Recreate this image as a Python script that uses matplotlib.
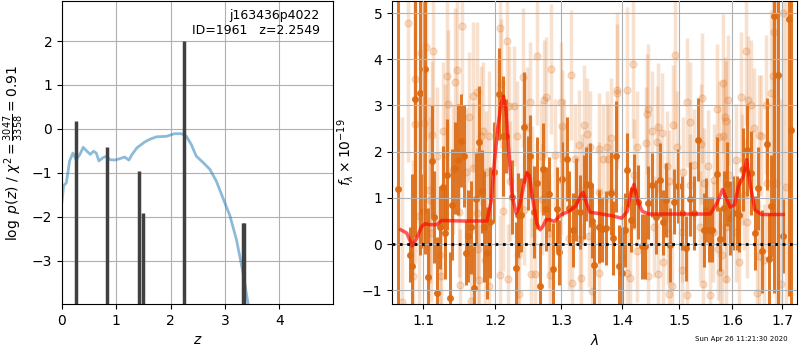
import matplotlib
matplotlib.use('Agg')
import matplotlib.pyplot as plt
from matplotlib.ticker import NullLocator, FixedLocator, FixedFormatter

# ---- left panel: redshift PDF ----
prior_z = [0.0, 0.03, 0.08, 0.14, 0.20, 0.26, 0.33, 0.39, 0.46, 0.52,
           0.58, 0.63, 0.68, 0.75, 0.82, 0.88, 0.97, 1.06, 1.15, 1.23,
           1.29, 1.38, 1.52, 1.61, 1.74, 1.92, 2.07, 2.20, 2.29, 2.38,
           2.47, 2.60, 2.72, 2.84, 2.96, 3.09, 3.21, 3.33, 3.42, 3.50]
prior_logp = [-1.65, -1.29, -1.23, -0.73, -0.55, -0.70, -0.58, -0.42, -0.51, -0.58,
              -0.51, -0.55, -0.73, -0.66, -0.62, -0.70, -0.71, -0.68, -0.64, -0.71,
              -0.58, -0.43, -0.30, -0.24, -0.18, -0.17, -0.11, -0.11, -0.17, -0.36,
              -0.62, -0.77, -0.92, -1.19, -1.57, -1.98, -2.52, -3.27, -3.95, -4.6]
peak_z = [0.26, 0.835, 1.413, 1.487, 2.249, 3.33, 3.355]
peak_logp = [0.18, -0.42, -0.95, -1.92, 2.01, -2.15, -2.15]

# ---- right panel: spectrum ----
dark_wave = [1.0673, 1.0825, 1.0855, 1.0890, 1.0956, 1.1000, 1.1023, 1.1066, 1.1112, 1.1142,
             1.1178, 1.1223, 1.1259, 1.1290, 1.1326, 1.1366, 1.1393, 1.1437, 1.1469, 1.1514,
             1.1555, 1.1590, 1.1617, 1.1649, 1.1694, 1.1725, 1.1762, 1.1807, 1.1844, 1.1881,
             1.1922, 1.1985,
             1.2053, 1.2111, 1.2159, 1.2247, 1.2309, 1.2332, 1.2378, 1.2432, 1.2482, 1.2513,
             1.2583, 1.2633, 1.2667, 1.2710, 1.2760, 1.2813, 1.2879, 1.2930, 1.2968, 1.3011,
             1.3094, 1.3125, 1.3189, 1.3242, 1.3294, 1.3366, 1.3403, 1.3456, 1.3489, 1.3527,
             1.3603, 1.3658, 1.3725, 1.3813, 1.3851, 1.3897, 1.3953, 1.4003, 1.4048, 1.4087,
             1.4148, 1.4207, 1.4275, 1.4334, 1.4391, 1.4448, 1.4517, 1.4579, 1.4656, 1.4714,
             1.4755, 1.4832, 1.4910, 1.4982, 1.5054, 1.5134, 1.5195, 1.5274, 1.5346,
             1.5455, 1.5497, 1.5554, 1.5614, 1.5703, 1.5757, 1.5831, 1.5891, 1.5947, 1.6018,
             1.6081, 1.6133, 1.6201, 1.6279, 1.6360, 1.6455, 1.6506, 1.6591, 1.6679, 1.6727,
             1.6775, 1.6837, 1.6903, 1.7019, 1.7138, 1.7187]
dark_flux = [1.19, -0.23, -0.48, 3.15, 3.27, 0.72, 3.79, -0.72, 1.80, 0.58,
             -1.05, 0.36, 1.23, 0.24, 1.50, -1.17, 0.85, 1.65, 1.83, 2.24,
             1.90, -0.19, 0.18, 0.36, -0.95, 0.97, 2.22, 1.14, 0.38, -0.19,
             0.47, 1.55,
             3.25, 2.34, 2.33, 1.01, -0.52, 0.63, 0.63, 2.53, 1.54, 1.90,
             0.69, 1.32, -0.90, 1.62, 0.76, 1.09, -0.54, 0.76, -0.18, 1.41,
             1.84, 0.78, 0.31, 0.96, 0.69, 1.02, 1.30, 1.28, 0.49, -0.45,
             0.38, 0.32, 0.35, 1.10, 0.14, 1.90, -0.48, -0.63, 0.31, 1.61,
             0.53, 1.14, 0.92, -0.05, -0.05, 0.90, 1.28, 0.58, 1.39, 0.47,
             0.95, -0.01, 0.92, 1.25, 0.67, -0.09, 0.97, 0.67, 2.26,
             0.31, 0.74, 0.31, 0.31, 1.52, 0.11, 0.78, 1.30, 0.56, 0.67,
             0.67, 0.63, 1.62, 2.04, 1.54, 0.24, 1.21, -0.16, 2.16, -0.32,
             0.83, 4.94, 3.67, 0.18, 4.87, 2.47]
dark_err = [6.0, 0.6, 2.0, 3.0, 3.5, 0.8, 4.0, 1.5, 1.2, 1.0,
            1.2, 0.9, 0.9, 1.0, 1.2, 1.0, 1.2, 1.0, 1.2, 1.0,
            1.1, 0.7, 1.0, 1.0, 0.9, 1.0, 1.2, 0.9, 1.2, 1.0,
            1.2, 1.1,
            1.0, 1.3, 0.8, 0.8, 1.0, 0.9, 0.8, 1.2, 0.8, 0.9,
            1.0, 1.0, 0.9, 1.0, 0.9, 0.8, 1.0, 0.9, 0.7, 0.8,
            0.9, 0.8, 0.8, 0.9, 0.8, 0.9, 0.8, 0.9, 0.8, 0.9,
            0.8, 0.7, 0.8, 0.9, 0.8, 1.2, 0.9, 1.0, 0.8, 0.8,
            0.7, 0.8, 0.8, 0.7, 0.7, 0.8, 0.7, 0.8, 0.8, 0.7,
            0.8, 0.8, 0.7, 0.8, 0.8, 0.7, 0.8, 0.8, 0.9,
            0.8, 0.7, 0.7, 0.7, 0.8, 0.7, 0.8, 0.9, 0.8, 0.8,
            0.8, 0.8, 0.9, 1.0, 0.9, 0.8, 0.9, 0.9, 1.0, 1.0,
            1.1, 6.0, 6.0, 0.8, 6.0, 6.0]

light_wave = [1.0803, 1.1036, 1.0966, 1.1133, 1.0890, 1.1314, 1.1430, 1.1457, 1.1530, 1.1745,
              1.1686, 1.1336, 1.1621, 1.0885, 1.1013, 1.1112, 1.1268, 1.1828, 1.1917, 1.1792,
              1.1178, 1.1291, 1.1076, 1.1403, 1.1586, 1.1676, 1.1870, 1.1089, 1.0947, 1.1480,
              1.1740, 1.1108, 1.1223, 1.1232, 1.1494, 1.1759, 1.1861, 1.0867, 1.1912, 1.1654,
              1.0725, 1.1768,
              1.2071, 1.2169, 1.2085, 1.2208, 1.2283, 1.2013, 1.2317, 1.2417, 1.2516, 1.2632,
              1.2836, 1.2734, 1.2770, 1.3160, 1.2992, 1.3018, 1.3362, 1.3415, 1.3292, 1.3459,
              1.2466, 1.2683, 1.2904, 1.3045, 1.3219, 1.2556, 1.2223, 1.2708, 1.2998, 1.3335,
              1.2111, 1.2432, 1.2811, 1.3124, 1.3308, 1.3452, 1.2332, 1.2183, 1.2065, 1.2531,
              1.2597, 1.2821, 1.3176, 1.2357, 1.3496, 1.3324,
              1.3908, 1.3915, 1.4087, 1.4190, 1.4925, 1.4440, 1.4422, 1.4616, 1.4521, 1.4687,
              1.4884, 1.5138, 1.5199, 1.3614, 1.3742, 1.3768, 1.3685, 1.3813, 1.4248, 1.4405,
              1.4598, 1.4956, 1.5279, 1.4776, 1.5076, 1.3603, 1.3825, 1.4207, 1.4817, 1.5205,
              1.4556, 1.4805, 1.5047, 1.3992, 1.4252, 1.4715, 1.4077, 1.4445, 1.4627, 1.5058,
              1.4133, 1.4876, 1.4810, 1.5142, 1.3618,
              1.5418, 1.5812, 1.5908, 1.5704, 1.5856, 1.5875, 1.6262, 1.6178, 1.6309, 1.6360,
              1.6659, 1.6760, 1.6815, 1.6820, 1.7019, 1.5749, 1.5818, 1.6527, 1.6559, 1.6427,
              1.5405, 1.6067, 1.5543, 1.5655, 1.6183, 1.6693, 1.6861, 1.5468, 1.5940, 1.6230,
              1.6295, 1.5880, 1.5623, 1.5375, 1.6072, 1.5717, 1.5808, 1.6133, 1.6532, 1.6627,
              1.5436, 1.5870, 1.5768, 1.5580, 1.6493, 1.6963, 1.7066]
light_flux = [4.78, 4.26, 4.13, 4.17, 3.58, 3.63, 3.51, 3.76, 4.73, 3.30,
              3.20, 3.03, 2.75, 2.60, 2.63, 2.37, 2.45, 2.45, 2.35, 2.35,
              1.91, 1.96, 1.18, 1.61, 1.55, 1.65, 1.57, 0.96, 0.61, 0.69,
              0.67, 0.24, -0.23, -0.69, -0.88, -0.11, -0.34, -0.69, -0.90, -1.24,
              -1.26, -0.77,
              4.68, 4.39, 3.47, 2.99, 2.98, 2.49, 2.33, 3.61, 3.07, 4.08,
              3.79, 3.11, 3.18, 3.66, 3.07, 2.56, 2.57, 2.39, 2.14, 2.11,
              2.53, 1.90, 1.93, 1.93, 1.84, 1.36, 1.36, 0.97, 1.39, 1.18,
              0.71, 0.74, 0.24, 0.13, 0.11, 0.18, -0.23, -0.76, -0.66, -0.64,
              -0.64, -0.66, -0.84, -1.08, -1.02, -0.74,
              3.33, 3.27, 3.34, 3.90, 4.10, 2.92, 2.82, 2.53, 2.45, 2.40,
              2.58, 3.07, 2.64, 2.06, 2.11, 1.84, 1.84, 2.29, 2.11, 2.19,
              2.22, 2.11, 1.72, 1.68, 1.55, 1.12, 1.12, 1.50, 1.36, 1.28,
              0.38, 0.24, 0.27, -0.27, -0.16, -0.38, -0.63, -0.70, -0.64, -0.57,
              -0.74, -0.90, -1.08, -1.10, -0.63,
              3.16, 3.48, 3.12, 2.92, 2.75, 2.66, 4.18, 3.18, 3.11, 3.02,
              3.02, 3.27, 3.63, 4.58, 5.00, 2.32, 2.35, 2.37, 2.35, 2.51,
              2.17, 1.83, 1.70, 1.39, 1.61, 1.33, 1.33, 1.32, 1.50, 1.07,
              0.47, 0.38, 0.27, 0.38, 0.27, -0.11, -0.23, -0.38, -0.25, -0.34,
              -0.86, -0.76, -0.61, -1.10, -1.06, -0.86, 1.23]
light_err = [3.0, 2.0, 2.5, 1.8, 3.0, 1.8, 1.6, 1.8, 1.5, 1.5,
             1.6, 1.6, 1.4, 3.0, 2.5, 1.6, 1.5, 1.5, 1.4, 1.5,
             1.5, 1.5, 2.0, 1.4, 1.4, 1.4, 1.3, 1.8, 2.5, 1.4,
             1.4, 1.5, 1.3, 1.3, 1.2, 1.3, 1.3, 2.5, 1.2, 1.2,
             4.0, 1.2,
             1.5, 1.6, 1.4, 1.3, 1.3, 1.5, 1.2, 1.5, 1.3, 1.5,
             1.4, 1.3, 1.3, 1.4, 1.3, 1.2, 1.3, 1.2, 1.2, 1.2,
             1.3, 1.2, 1.2, 1.2, 1.2, 1.2, 1.3, 1.2, 1.2, 1.2,
             1.3, 1.2, 1.2, 1.1, 1.1, 1.1, 1.2, 1.2, 1.3, 1.2,
             1.2, 1.2, 1.2, 1.2, 1.2, 1.2,
             1.7, 1.5, 1.8, 1.6, 1.6, 1.4, 1.3, 1.4, 1.3, 1.3,
             1.3, 1.4, 1.3, 1.2, 1.2, 1.2, 1.2, 1.3, 1.2, 1.2,
             1.2, 1.2, 1.2, 1.2, 1.2, 1.1, 1.1, 1.2, 1.1, 1.1,
             1.1, 1.1, 1.1, 1.1, 1.1, 1.1, 1.1, 1.1, 1.1, 1.1,
             1.1, 1.1, 1.1, 1.1, 1.1,
             1.4, 1.5, 1.4, 1.4, 1.3, 1.3, 1.6, 1.4, 1.4, 1.4,
             1.5, 1.8, 3.0, 4.0, 5.0, 1.2, 1.2, 1.3, 1.3, 1.3,
             1.3, 1.2, 1.2, 1.2, 1.2, 1.5, 4.0, 1.2, 1.2, 1.2,
             1.2, 1.2, 1.1, 1.2, 1.1, 1.1, 1.1, 1.2, 1.2, 1.2,
             1.1, 1.1, 1.1, 1.1, 1.2, 4.0, 4.0]

model_wave = [1.0703, 1.0780, 1.0855, 1.0912, 1.0978, 1.1022, 1.1089, 1.1178, 1.1244, 1.1545,
              1.1883, 1.1946, 1.1993, 1.2042, 1.2090, 1.2124, 1.2164, 1.2203, 1.2252, 1.2311,
              1.2361, 1.2420, 1.2471, 1.2511, 1.2562, 1.2622, 1.2674, 1.2714, 1.2766, 1.2817,
              1.2894, 1.2999, 1.3129, 1.3236, 1.3316, 1.3354, 1.3397, 1.3462, 1.3615, 1.3835,
              1.3990, 1.4086, 1.4144, 1.4201, 1.4258, 1.4344, 1.4460, 1.4994, 1.5578, 1.5704,
              1.5811, 1.5894, 1.5958, 1.6041, 1.6118, 1.6215, 1.6280, 1.6345, 1.6443, 1.6576,
              1.7017]
model_flux = [0.31, 0.24, -0.04, 0.13, 0.38, 0.44, 0.42, 0.42, 0.51, 0.50,
              0.50, 0.96, 1.83, 2.55, 3.05, 3.20, 2.84, 1.97, 1.03, 0.67,
              0.82, 1.25, 1.54, 1.47, 0.96, 0.45, 0.31, 0.38, 0.53, 0.53,
              0.49, 0.64, 0.71, 0.83, 1.07, 1.12, 0.92, 0.69, 0.66, 0.61,
              0.56, 0.71, 1.10, 1.29, 0.96, 0.71, 0.65, 0.65, 0.65, 0.89,
              1.18, 0.96, 0.80, 0.85, 1.25, 1.47, 1.83, 1.32, 0.74, 0.64,
              0.64]
wave_ticks = [1.1, 1.2, 1.3, 1.4, 1.5, 1.6, 1.7]

specColor = '#dc6a12'

fig = plt.figure(figsize=(8, 3.5), dpi=100)

# left
axZ = fig.add_axes([0.0775, 0.131, 0.339, 0.866])
axZ.plot(prior_z, prior_logp, color='#1f77b4', alpha=0.5, lw=2)
axZ.vlines(peak_z, -10, peak_logp, color='#404040', lw=2.5)
axZ.set_xlim(0, 4.99)
axZ.set_ylim(-3.99, 2.91)
axZ.set_xticks([0, 1, 2, 3, 4])
axZ.set_yticks([-3, -2, -1, 0, 1, 2])
axZ.grid()
axZ.set_xlabel(r'$z$')
axZ.set_ylabel(r'$\log\ p(z)$ / $\chi^2=\frac{3047}{3358}=0.91$')
axZ.text(0.95, 0.975, 'j163436p4022\nID=1961   z=2.2549',
         transform=axZ.transAxes, ha='right', va='top', fontsize=9)

# right
axS = fig.add_axes([0.49, 0.131, 0.506, 0.866])
axS.errorbar(light_wave, light_flux, yerr=light_err, color=specColor, alpha=0.2,
             marker='o', ms=5, linestyle='none', elinewidth=2.5, zorder=1)
axS.errorbar(dark_wave, dark_flux, yerr=dark_err, color=specColor, alpha=0.9,
             marker='o', ms=4, linestyle='none', elinewidth=2.2, zorder=2)
axS.plot(model_wave, model_flux, color='r', alpha=0.65, lw=2.5, zorder=4)
axS.set_xscale('log')
axS.set_xlim(1.059, 1.73)
axS.set_ylim(-1.3, 5.26)
axS.axhline(0, color='k', linestyle=':', lw=2, zorder=5)
axS.xaxis.set_major_locator(FixedLocator(wave_ticks))
axS.xaxis.set_major_formatter(FixedFormatter(['%.1f' % w for w in wave_ticks]))
axS.xaxis.set_minor_locator(NullLocator())
axS.set_yticks([-1, 0, 1, 2, 3, 4, 5])
axS.set_axisbelow(False)
axS.grid(zorder=3)
axS.set_xlabel(r'$\lambda$')
axS.set_ylabel(r'$f_\lambda\times10^{-19}$')

fig.text(0.984, 0.022, 'Sun Apr 26 11:21:30 2020', ha='right', va='bottom', fontsize=5)

fig.savefig('out.png', dpi=100)
